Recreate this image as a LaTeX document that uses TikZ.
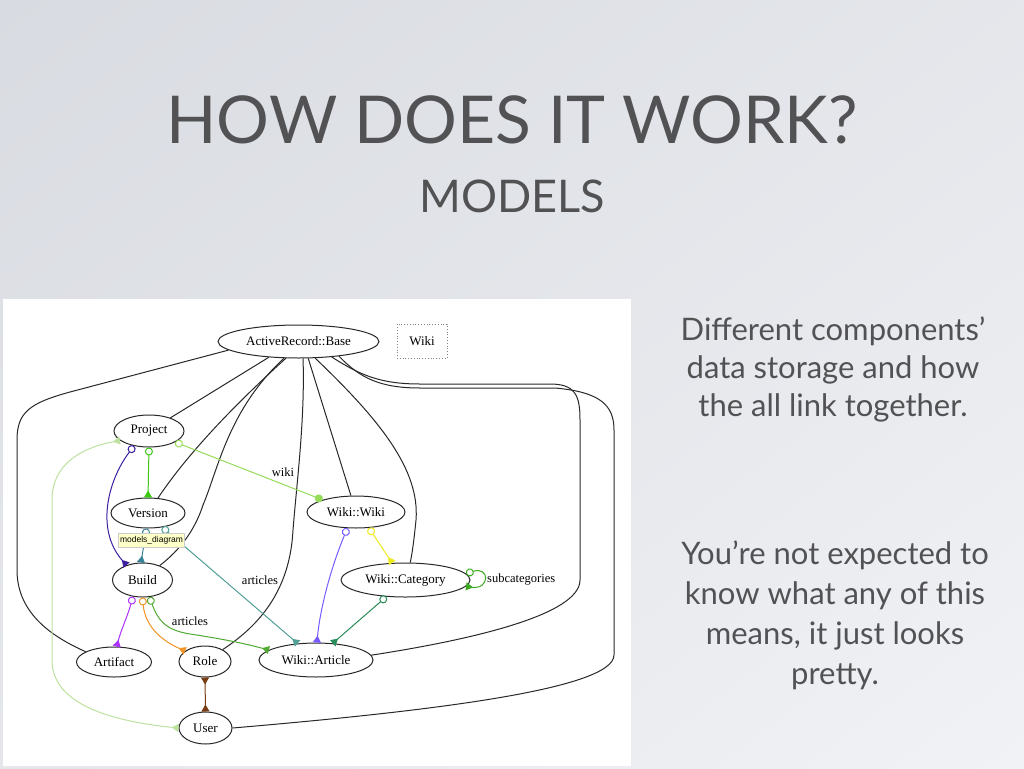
\documentclass[tikz,border=0pt]{standalone}
\usepackage{fontspec}
\setmainfont{Lato}
\newfontfamily\tms{Liberation Serif}
\newfontfamily\tipf{Liberation Sans}
\usetikzlibrary{shapes.geometric,arrows.meta,shadings}
\definecolor{bgA}{RGB}{216,219,225}
\definecolor{bgB}{RGB}{241,242,245}
\definecolor{slideink}{RGB}{82,82,84}
\definecolor{ink}{RGB}{40,40,40}
\definecolor{cGreen}{RGB}{60,200,20}
\definecolor{cPurple}{RGB}{60,30,160}
\definecolor{cLight}{RGB}{150,220,90}
\definecolor{cPale}{RGB}{190,225,160}
\definecolor{cTeal}{RGB}{60,130,150}
\definecolor{cTeal2}{RGB}{80,160,150}
\definecolor{cViolet}{RGB}{170,50,250}
\definecolor{cOrange}{RGB}{240,150,40}
\definecolor{cGreen2}{RGB}{80,170,50}
\definecolor{cBrown}{RGB}{120,60,20}
\definecolor{cBlue}{RGB}{120,90,255}
\definecolor{cYellow}{RGB}{235,235,30}
\definecolor{cSea}{RGB}{40,140,90}
\definecolor{cLoop}{RGB}{60,170,30}
\definecolor{tipbg}{RGB}{255,255,200}
\tikzset{
  ent/.style={ellipse, draw=ink, line width=1pt, fill=white, inner sep=0pt, font=\tms\fontsize{13}{15}\selectfont, text=black},
  rel/.style={draw=ink, line width=1pt},
  crel/.style={line width=1pt},
  odot/.style={{Circle[open,fill=white,length=8pt,width=8pt]}-{Triangle[reversed,length=7pt,width=8pt]}},
  crows/.style={{Triangle[reversed,length=7pt,width=8pt]}-{Triangle[reversed,length=7pt,width=8pt]}},
  odotdot/.style={{Circle[open,fill=white,length=8pt,width=8pt]}-{Circle[length=8pt,width=8pt]}},
  elabel/.style={font=\tms\fontsize{12.5}{14}\selectfont, text=black, inner sep=1pt},
  slide/.style={text=slideink, align=center, font=\fontsize{31}{38.5}\selectfont},
}
\begin{document}
\begin{tikzpicture}[x=1pt,y=-1pt]
\useasboundingbox (0,0) rectangle (1024,768);
\shade[upper left=bgA, lower right=bgB, upper right=bgA!50!bgB, lower left=bgA!50!bgB] (0,0) rectangle (1024,768);
\fill[white] (3,299) rectangle (631,766);

% slide texts
\node[text=slideink, anchor=base, font=\fontsize{66}{70}\selectfont] (title) at (512,143) {HOW DOES IT WORK?};
\node[text=slideink, anchor=base, font=\fontsize{45}{50}\selectfont] (sub) at (512,212) {MODELS};
\node[slide, anchor=base] (p1a) at (833,340) {Different components’};
\node[slide, anchor=base] (p1b) at (833,378) {data storage and how};
\node[slide, anchor=base] (p1c) at (833,416) {the all link together.};
\node[slide, anchor=base] (p2a) at (835,564) {You’re not expected to};
\node[slide, anchor=base] (p2b) at (835,604) {know what any of this};
\node[slide, anchor=base] (p2c) at (835,644) {means, it just looks};
\node[slide, anchor=base] (p2d) at (835,684) {pretty.};

% entity nodes
\node[ent, minimum width=161pt, minimum height=33pt] (AR) at (298.5,341.5) {ActiveRecord::Base};
\node[draw=gray, dotted, line width=0.8pt, minimum width=50pt, minimum height=34pt, inner sep=0pt, font=\tms\fontsize{13}{15}\selectfont] (wiki) at (422,341) {Wiki};
\node[ent, minimum width=70pt, minimum height=32pt] (Project) at (149,431) {Project};
\node[ent, minimum width=74pt, minimum height=30pt] (Version) at (148,513) {Version};
\node[ent, minimum width=60pt, minimum height=34pt] (Build) at (142.5,580) {Build};
\node[ent, minimum width=98pt, minimum height=32pt] (WW) at (356,512) {Wiki::Wiki};
\node[ent, minimum width=129pt, minimum height=34pt] (Cat) at (405.5,580) {Wiki::Category};
\node[ent, minimum width=75pt, minimum height=30pt] (Artifact) at (114,662) {Artifact};
\node[ent, minimum width=52pt, minimum height=31pt] (Role) at (205,661.5) {Role};
\node[ent, minimum width=114pt, minimum height=34pt] (Article) at (316,660) {Wiki::Article};
\node[ent, minimum width=53pt, minimum height=32pt] (User) at (205.5,728) {User};

% black inheritance edges
\draw[rel] (AR.187) -- (70,392) .. controls (30,403) and (17,412) .. (17,440) -- (17,570) .. controls (17,615) and (55,638) .. (Artifact.160);
\draw[rel] (AR.208) -- (Project);
\draw[rel] (AR.233) .. controls (240,400) and (190,450) .. (Version);
\draw[rel] (AR.229) .. controls (228,410) and (218,470) .. (203,505) .. controls (195,530) and (180,550) .. (Build.40);
\draw[rel] (AR.285) .. controls (305,420) and (297,480) .. (293,530) .. controls (290,590) and (260,625) .. (Role.34);
\draw[rel] (AR.300) -- (WW);
\draw[rel] (AR.315) .. controls (380,420) and (420,470) .. (416,520) .. controls (414,540) and (412,555) .. (Cat.75);
\draw[rel] (AR.335) .. controls (360,375) and (380,384) .. (420,384) -- (550,384) .. controls (575,384) and (580,395) .. (580,420) -- (580,580) .. controls (580,615) and (470,640) .. (Article.5);
\draw[rel] (AR.340) .. controls (360,378) and (380,388) .. (420,388) -- (555,388) .. controls (600,392) and (614,405) .. (614,430) -- (614,655) .. controls (614,690) and (420,712) .. (User.east);

% coloured association edges
\draw[crel, cGreen, odot] (Project.south) -- (Version.north);
\draw[crel, cPurple, odot] (Project.225) .. controls (108,480) and (95,530) .. (Build.137);
\draw[crel, cLight, odotdot] (Project.337) -- (WW.160);
\draw[crel, cPale, crows] (User.west) .. controls (100,720) and (52,700) .. (52,660) -- (52,500) .. controls (52,465) and (80,448) .. (Project.198);
\draw[crel, cTeal, odot] (Version.265) -- (Build.95);
\draw[crel, cTeal2, odot] (Version.315) -- (Article.138);
\draw[crel, cViolet, odot] (Build.240) .. controls (128,615) and (121,630) .. (Artifact.80);
\draw[crel, cOrange, odot] (Build.270) .. controls (145,625) and (160,640) .. (Role.152);
\draw[crel, cGreen2, odot] (Build.292) .. controls (158,620) and (165,630) .. (190,634) .. controls (230,640) and (250,645) .. (Article.168);
\draw[crel, cBrown, crows] (Role.south) -- (User.north);
\draw[crel, cBlue, odot] (WW.242) .. controls (330,570) and (320,610) .. (Article.87);
\draw[crel, cYellow, odot] (WW.309) -- (Cat.128);
\draw[crel, cSea, odot] (Cat.221) -- (Article.45);
\draw[crel, cLoop, odot] (Cat.6) .. controls (490,566) and (490,590) .. (Cat.354);

% edge labels
\node[elabel] (lwiki) at (283,472) {wiki};
\node[elabel] (lart1) at (260,580) {articles};
\node[elabel] (lart2) at (190,621) {articles};
\node[elabel, anchor=west] (lsub) at (486,580) {subcategories};

% tooltip
\node[fill=tipbg, draw=gray!40, line width=0.4pt, inner sep=1.5pt, minimum height=14pt, font=\tipf\fontsize{8.5}{10}\selectfont] (tip) at (151.5,540) {models\_diagram};
\end{tikzpicture}
\end{document}
